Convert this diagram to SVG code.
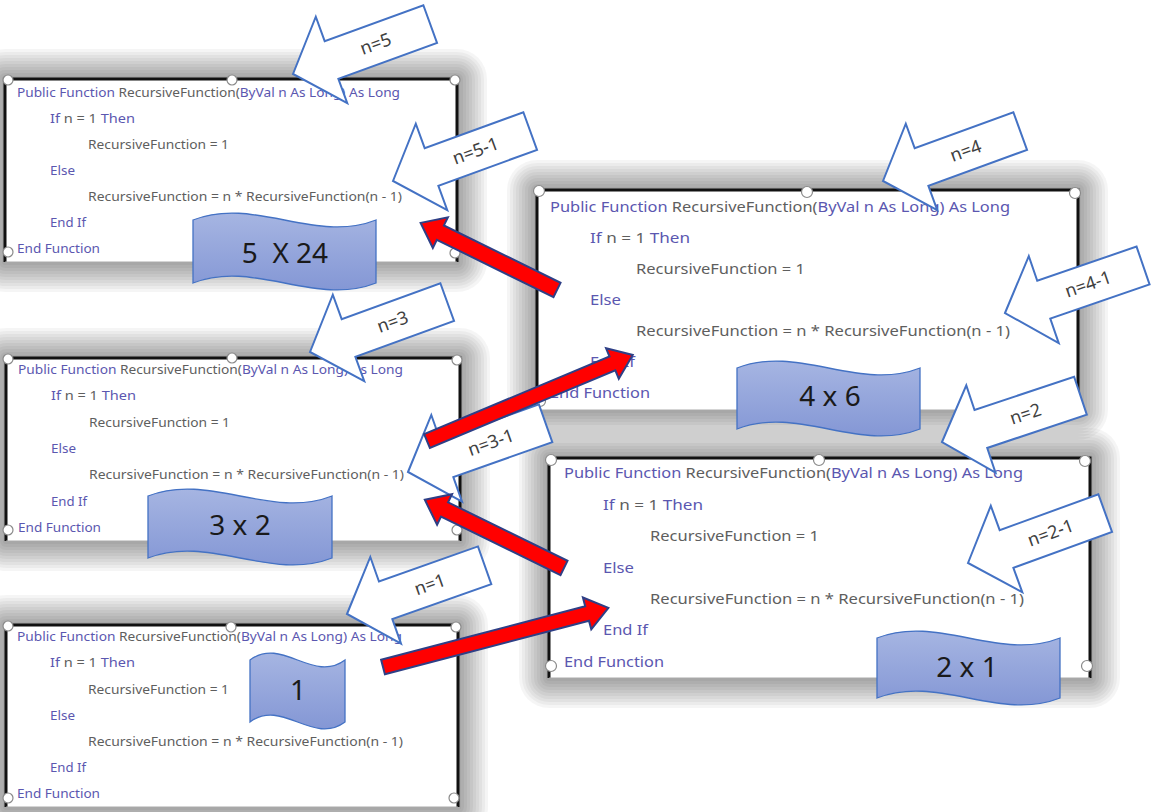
<svg xmlns="http://www.w3.org/2000/svg" xmlns:xlink="http://www.w3.org/1999/xlink" width="1151" height="812" viewBox="0 0 1151 812">
<style>
.code{font-family:"Noto Sans","Open Sans",sans-serif;fill:#5e5e5e}
.s{font-size:12.5px}
.l{font-size:15px}
.k{fill:#5b57b0}
.g{fill:#5e5e5e}
.frame{fill:none;stroke:#111;stroke-width:3}
.bot{stroke:#aaa;stroke-width:1}
.hd{fill:#fff;stroke:#8a8a8a;stroke-width:1.2}
.sd rect{fill:#000;fill-opacity:0.04}
.wave{fill:url(#wg);stroke:#4472c4;stroke-width:1.3}
.wt{font-family:"Noto Sans","Open Sans",sans-serif;font-size:28px;fill:#1a1a1a;text-anchor:middle;white-space:pre}
.blk{fill:#fff;stroke:#4472c4;stroke-width:2;stroke-linejoin:miter}
.bt{font-family:"Noto Sans","Open Sans",sans-serif;font-size:18px;fill:#404040;text-anchor:middle}
.red{fill:#ff0000;stroke:#2e3f86;stroke-width:2;stroke-linejoin:miter}
</style>
<defs>
<linearGradient id="wg" x1="0" y1="0" x2="0" y2="1">
<stop offset="0" stop-color="#a6b5e2"/>
<stop offset="1" stop-color="#8497d5"/>
</linearGradient>
<path id="ba" d="M0,0 L41,-46 L41,-20 L146,-20 L146,20 L41,20 L41,46 Z"/>
</defs>
<rect width="1151" height="812" fill="#fff"/>

<!-- Box 1 -->
<g id="box1">
<g class="sd">
<rect x="-25" y="49" width="512" height="243" rx="30"/><rect x="-22" y="52" width="506" height="237" rx="27"/>
<rect x="-19" y="55" width="500" height="231" rx="24"/><rect x="-16" y="58" width="494" height="225" rx="21"/>
<rect x="-13" y="61" width="488" height="219" rx="18"/><rect x="-10" y="64" width="482" height="213" rx="15"/>
<rect x="-7" y="67" width="476" height="207" rx="12"/><rect x="-4" y="70" width="470" height="201" rx="9"/>
<rect x="-1" y="73" width="464" height="195" rx="6"/><rect x="2" y="76" width="458" height="189" rx="3"/>
</g>
<rect x="5" y="79" width="452" height="183" fill="#fff"/>
<path class="frame" d="M5,262 L5,79 L457,79 L457,262"/>
<line class="bot" x1="5" y1="262" x2="457" y2="262"/>
<g class="code s">
<text x="17" y="97" textLength="383" lengthAdjust="spacingAndGlyphs"><tspan class="k">Public Function </tspan><tspan class="g">RecursiveFunction(</tspan><tspan class="k">ByVal n As Long) As Long</tspan></text>
<text x="50" y="123" textLength="85" lengthAdjust="spacingAndGlyphs"><tspan class="k">If </tspan><tspan class="g">n = 1 </tspan><tspan class="k">Then</tspan></text>
<text x="88" y="149" textLength="141" lengthAdjust="spacingAndGlyphs">RecursiveFunction = 1</text>
<text x="50" y="175" class="k" textLength="25" lengthAdjust="spacingAndGlyphs">Else</text>
<text x="88" y="201" textLength="314" lengthAdjust="spacingAndGlyphs">RecursiveFunction = n * RecursiveFunction(n - 1)</text>
<text x="50" y="227" class="k" textLength="36" lengthAdjust="spacingAndGlyphs">End If</text>
<text x="17" y="253" class="k" textLength="83" lengthAdjust="spacingAndGlyphs">End Function</text>
</g>
<circle class="hd" cx="8" cy="80" r="5"/><circle class="hd" cx="232" cy="80" r="5"/><circle class="hd" cx="455" cy="80" r="5"/>
<circle class="hd" cx="8" cy="252" r="5"/><circle class="hd" cx="455" cy="253" r="5"/>
</g>

<!-- Box 3 -->
<g id="box3">
<g class="sd">
<rect x="-24" y="328" width="514" height="243" rx="30"/><rect x="-21" y="331" width="508" height="237" rx="27"/>
<rect x="-18" y="334" width="502" height="231" rx="24"/><rect x="-15" y="337" width="496" height="225" rx="21"/>
<rect x="-12" y="340" width="490" height="219" rx="18"/><rect x="-9" y="343" width="484" height="213" rx="15"/>
<rect x="-6" y="346" width="478" height="207" rx="12"/><rect x="-3" y="349" width="472" height="201" rx="9"/>
<rect x="0" y="352" width="466" height="195" rx="6"/><rect x="3" y="355" width="460" height="189" rx="3"/>
</g>
<rect x="6" y="358" width="454" height="183" fill="#fff"/>
<path class="frame" d="M6,541 L6,358 L460,358 L460,541"/>
<line class="bot" x1="6" y1="541" x2="460" y2="541"/>
<g class="code s">
<text x="18" y="374" textLength="385" lengthAdjust="spacingAndGlyphs"><tspan class="k">Public Function </tspan><tspan class="g">RecursiveFunction(</tspan><tspan class="k">ByVal n As Long) As Long</tspan></text>
<text x="51" y="400" textLength="85" lengthAdjust="spacingAndGlyphs"><tspan class="k">If </tspan><tspan class="g">n = 1 </tspan><tspan class="k">Then</tspan></text>
<text x="89" y="427" textLength="141" lengthAdjust="spacingAndGlyphs">RecursiveFunction = 1</text>
<text x="51" y="453" class="k" textLength="25" lengthAdjust="spacingAndGlyphs">Else</text>
<text x="89" y="479" textLength="315" lengthAdjust="spacingAndGlyphs">RecursiveFunction = n * RecursiveFunction(n - 1)</text>
<text x="51" y="506" class="k" textLength="36" lengthAdjust="spacingAndGlyphs">End If</text>
<text x="18" y="532" class="k" textLength="83" lengthAdjust="spacingAndGlyphs">End Function</text>
</g>
<circle class="hd" cx="8" cy="359" r="5"/><circle class="hd" cx="232" cy="358" r="5"/><circle class="hd" cx="457" cy="360" r="5"/>
<circle class="hd" cx="8" cy="530" r="5"/><circle class="hd" cx="457" cy="530" r="5"/>
</g>

<!-- Box 5 -->
<g id="box5">
<g class="sd">
<rect x="-24" y="595" width="512" height="242" rx="30"/><rect x="-21" y="598" width="506" height="236" rx="27"/>
<rect x="-18" y="601" width="500" height="230" rx="24"/><rect x="-15" y="604" width="494" height="224" rx="21"/>
<rect x="-12" y="607" width="488" height="218" rx="18"/><rect x="-9" y="610" width="482" height="212" rx="15"/>
<rect x="-6" y="613" width="476" height="206" rx="12"/><rect x="-3" y="616" width="470" height="200" rx="9"/>
<rect x="0" y="619" width="464" height="194" rx="6"/><rect x="3" y="622" width="458" height="188" rx="3"/>
</g>
<rect x="6" y="625" width="452" height="182" fill="#fff"/>
<path class="frame" d="M6,807 L6,625 L458,625 L458,807"/>
<line class="bot" x1="6" y1="807" x2="458" y2="807"/>
<g class="code s">
<text x="17" y="641" textLength="385" lengthAdjust="spacingAndGlyphs"><tspan class="k">Public Function </tspan><tspan class="g">RecursiveFunction(</tspan><tspan class="k">ByVal n As Long) As Long</tspan></text>
<text x="50" y="667" textLength="85" lengthAdjust="spacingAndGlyphs"><tspan class="k">If </tspan><tspan class="g">n = 1 </tspan><tspan class="k">Then</tspan></text>
<text x="88" y="694" textLength="141" lengthAdjust="spacingAndGlyphs">RecursiveFunction = 1</text>
<text x="50" y="720" class="k" textLength="25" lengthAdjust="spacingAndGlyphs">Else</text>
<text x="88" y="746" textLength="315" lengthAdjust="spacingAndGlyphs">RecursiveFunction = n * RecursiveFunction(n - 1)</text>
<text x="50" y="772" class="k" textLength="36" lengthAdjust="spacingAndGlyphs">End If</text>
<text x="17" y="798" class="k" textLength="83" lengthAdjust="spacingAndGlyphs">End Function</text>
</g>
<circle class="hd" cx="8" cy="626" r="5"/><circle class="hd" cx="231" cy="627" r="5"/><circle class="hd" cx="456" cy="627" r="5"/>
<circle class="hd" cx="8" cy="798" r="5"/><circle class="hd" cx="454" cy="798" r="5"/>
</g>

<!-- Box 2 -->
<g id="box2">
<g class="sd">
<rect x="507" y="160" width="601" height="280" rx="30"/><rect x="510" y="163" width="595" height="274" rx="27"/>
<rect x="513" y="166" width="589" height="268" rx="24"/><rect x="516" y="169" width="583" height="262" rx="21"/>
<rect x="519" y="172" width="577" height="256" rx="18"/><rect x="522" y="175" width="571" height="250" rx="15"/>
<rect x="525" y="178" width="565" height="244" rx="12"/><rect x="528" y="181" width="559" height="238" rx="9"/>
<rect x="531" y="184" width="553" height="232" rx="6"/><rect x="534" y="187" width="547" height="226" rx="3"/>
</g>
<rect x="537" y="190" width="541" height="220" fill="#fff"/>
<path class="frame" d="M537,410 L537,190 L1078,190 L1078,410"/>
<line class="bot" x1="537" y1="410" x2="1078" y2="410"/>
<g class="code l">
<text x="550" y="212" textLength="460" lengthAdjust="spacingAndGlyphs"><tspan class="k">Public Function </tspan><tspan class="g">RecursiveFunction(</tspan><tspan class="k">ByVal n As Long) As Long</tspan></text>
<text x="590" y="243" textLength="100" lengthAdjust="spacingAndGlyphs"><tspan class="k">If </tspan><tspan class="g">n = 1 </tspan><tspan class="k">Then</tspan></text>
<text x="636" y="274" textLength="169" lengthAdjust="spacingAndGlyphs">RecursiveFunction = 1</text>
<text x="590" y="305" class="k" textLength="31" lengthAdjust="spacingAndGlyphs">Else</text>
<text x="636" y="336" textLength="374" lengthAdjust="spacingAndGlyphs">RecursiveFunction = n * RecursiveFunction(n - 1)</text>
<text x="590" y="367" class="k" textLength="45" lengthAdjust="spacingAndGlyphs">End If</text>
<text x="550" y="398" class="k" textLength="100" lengthAdjust="spacingAndGlyphs">End Function</text>
</g>
<circle class="hd" cx="539" cy="191" r="5.5"/><circle class="hd" cx="807" cy="192" r="5.5"/><circle class="hd" cx="1075" cy="193" r="5.5"/>
<circle class="hd" cx="540" cy="401" r="5.5"/><circle class="hd" cx="1076" cy="401" r="5.5"/>
</g>

<!-- Box 4 -->
<g id="box4">
<g class="sd">
<rect x="519" y="428" width="601" height="280" rx="30"/><rect x="522" y="431" width="595" height="274" rx="27"/>
<rect x="525" y="434" width="589" height="268" rx="24"/><rect x="528" y="437" width="583" height="262" rx="21"/>
<rect x="531" y="440" width="577" height="256" rx="18"/><rect x="534" y="443" width="571" height="250" rx="15"/>
<rect x="537" y="446" width="565" height="244" rx="12"/><rect x="540" y="449" width="559" height="238" rx="9"/>
<rect x="543" y="452" width="553" height="232" rx="6"/><rect x="546" y="455" width="547" height="226" rx="3"/>
</g>
<rect x="549" y="458" width="541" height="220" fill="#fff"/>
<path class="frame" d="M549,678 L549,458 L1090,458 L1090,678"/>
<line class="bot" x1="549" y1="678" x2="1090" y2="678"/>
<g class="code l">
<text x="564" y="478" textLength="459" lengthAdjust="spacingAndGlyphs"><tspan class="k">Public Function </tspan><tspan class="g">RecursiveFunction(</tspan><tspan class="k">ByVal n As Long) As Long</tspan></text>
<text x="603" y="510" textLength="100" lengthAdjust="spacingAndGlyphs"><tspan class="k">If </tspan><tspan class="g">n = 1 </tspan><tspan class="k">Then</tspan></text>
<text x="650" y="541" textLength="169" lengthAdjust="spacingAndGlyphs">RecursiveFunction = 1</text>
<text x="603" y="573" class="k" textLength="31" lengthAdjust="spacingAndGlyphs">Else</text>
<text x="650" y="604" textLength="374" lengthAdjust="spacingAndGlyphs">RecursiveFunction = n * RecursiveFunction(n - 1)</text>
<text x="603" y="635" class="k" textLength="45" lengthAdjust="spacingAndGlyphs">End If</text>
<text x="564" y="667" class="k" textLength="100" lengthAdjust="spacingAndGlyphs">End Function</text>
</g>
<circle class="hd" cx="551" cy="460" r="5.5"/><circle class="hd" cx="819" cy="460" r="5.5"/><circle class="hd" cx="1085" cy="461" r="5.5"/>
<circle class="hd" cx="551" cy="666" r="5.5"/><circle class="hd" cx="1087" cy="666" r="5.5"/>
</g>

<!-- Waves -->
<g id="wave1">
<path class="wave" d="M193,220 C254,196 315,244 376,220 L376,283 C315,307 254,259 193,283 Z"/>
<text class="wt" x="285" y="263" xml:space="preserve">5  X 24</text>
</g>
<g id="wave2">
<path class="wave" d="M737,368 C798,344 859,392 920,368 L920,429 C859,453 798,405 737,429 Z"/>
<text class="wt" x="830" y="406">4 x 6</text>
</g>
<g id="wave3">
<path class="wave" d="M148,496 C209,472 271,520 332,496 L332,558 C271,582 209,534 148,558 Z"/>
<text class="wt" x="240" y="535">3 x 2</text>
</g>
<g id="wave4">
<path class="wave" d="M877,638 C938,614 999,662 1060,638 L1060,698 C999,722 938,674 877,698 Z"/>
<text class="wt" x="967" y="677">2 x 1</text>
</g>
<g id="wave5">
<path class="wave" d="M250,660 C282,636 313,684 345,660 L345,722 C313,746 282,698 250,722 Z"/>
<text class="wt" x="298" y="700">1</text>
</g>

<!-- Block arrows with n labels -->
<g id="arrow-n5" transform="translate(293,74) rotate(-20)">
<use href="#ba" class="blk"/><text class="bt" x="88" y="6">n=5</text>
</g>
<g id="arrow-n5-1" transform="translate(393,181) rotate(-20)">
<use href="#ba" class="blk"/><text class="bt" x="88" y="6">n=5-1</text>
</g>
<g id="arrow-n4" transform="translate(883,181) rotate(-20)">
<use href="#ba" class="blk"/><text class="bt" x="88" y="6">n=4</text>
</g>
<g id="arrow-n4-1" transform="translate(1005,313) rotate(-19)">
<use href="#ba" class="blk"/><text class="bt" x="88" y="6">n=4-1</text>
</g>
<g id="arrow-n3" transform="translate(310,352) rotate(-20)">
<use href="#ba" class="blk"/><text class="bt" x="88" y="6">n=3</text>
</g>
<g id="arrow-n3-1" transform="translate(408,472) rotate(-19.5)">
<use href="#ba" class="blk"/><text class="bt" x="88" y="6">n=3-1</text>
</g>
<g id="arrow-n2" transform="translate(942,442) rotate(-18.5)">
<use href="#ba" class="blk"/><text class="bt" x="88" y="6">n=2</text>
</g>
<g id="arrow-n2-1" transform="translate(968,563) rotate(-20)">
<use href="#ba" class="blk"/><text class="bt" x="88" y="6">n=2-1</text>
</g>
<g id="arrow-n1" transform="translate(347,614) rotate(-19.5)">
<use href="#ba" class="blk"/><text class="bt" x="88" y="6">n=1</text>
</g>

<!-- Red connectors -->
<g id="connectors">
<path class="red" transform="translate(557,290) rotate(206.2)" d="M0,-8 L130,-8 L130,-17 L152,0 L130,17 L130,8 L0,8 Z"/>
<path class="red" transform="translate(427,441) rotate(-22.7)" d="M0,-7.5 L201,-7.5 L201,-16.5 L223,0 L201,16.5 L201,7.5 L0,7.5 Z"/>
<path class="red" transform="translate(564,568) rotate(206.1)" d="M0,-8 L133,-8 L133,-17 L155,0 L133,17 L133,8 L0,8 Z"/>
<path class="red" transform="translate(383,667) rotate(-14.7)" d="M0,-7.5 L211,-7.5 L211,-16.5 L233,0 L211,16.5 L211,7.5 L0,7.5 Z"/>
</g>
</svg>
